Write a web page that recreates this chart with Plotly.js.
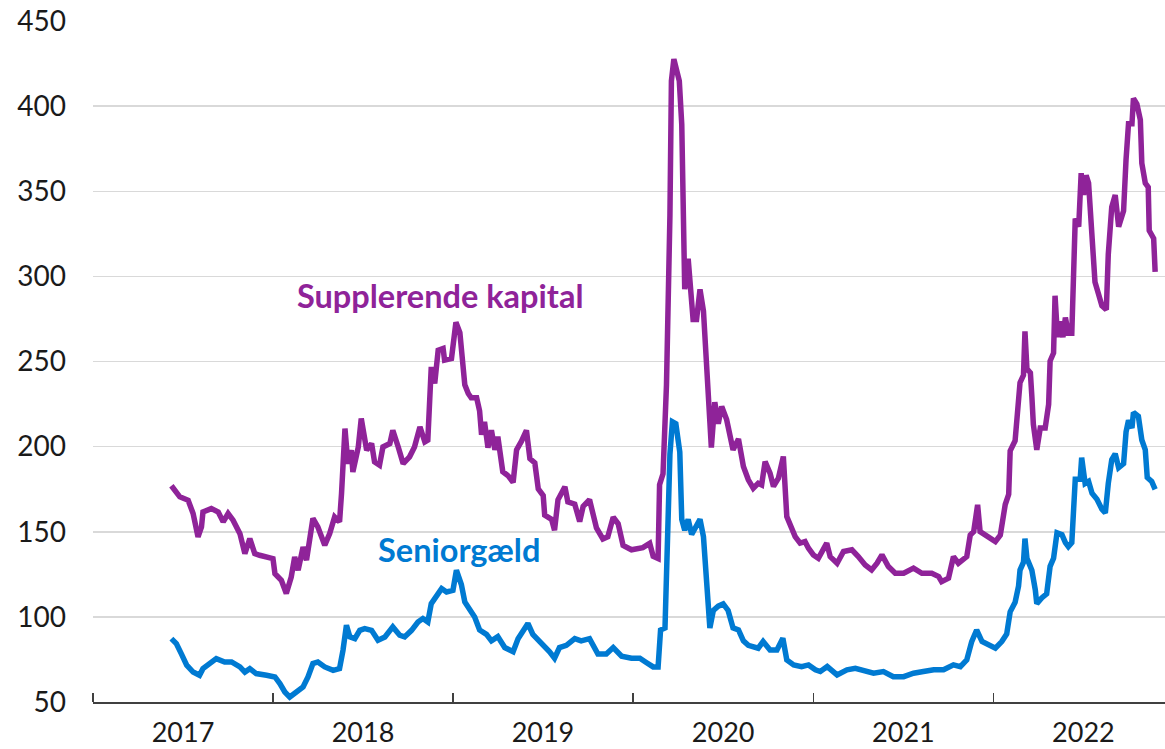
<!DOCTYPE html>
<html>
<head>
<meta charset="utf-8">
<script src="https://cdn.plot.ly/plotly-3.0.1.min.js"></script>
<style>html,body{margin:0;padding:0;background:#fff;}#chart{width:1165px;height:749px;}</style>
</head>
<body>
<div id="chart"></div>
<script>
// Time as decimal years, values in basis points
const suppYears = [2017.437,2017.483,2017.529,2017.557,2017.585,2017.604,2017.613,2017.659,2017.696,2017.724,2017.752,2017.779,2017.817,2017.844,2017.872,2017.900,2017.928,2018.002,2018.011,2018.048,2018.076,2018.104,2018.122,2018.141,2018.168,2018.187,2018.224,2018.252,2018.289,2018.317,2018.344,2018.372,2018.382,2018.400,2018.418,2018.437,2018.446,2018.474,2018.493,2018.521,2018.548,2018.567,2018.594,2018.613,2018.650,2018.668,2018.696,2018.724,2018.761,2018.789,2018.817,2018.844,2018.863,2018.882,2018.900,2018.918,2018.946,2018.956,2018.993,2019.017,2019.039,2019.054,2019.067,2019.085,2019.104,2019.132,2019.150,2019.159,2019.178,2019.196,2019.215,2019.233,2019.252,2019.279,2019.307,2019.335,2019.354,2019.382,2019.409,2019.428,2019.456,2019.474,2019.502,2019.511,2019.548,2019.567,2019.585,2019.622,2019.641,2019.678,2019.706,2019.724,2019.761,2019.798,2019.835,2019.863,2019.891,2019.918,2019.946,2019.993,2020.057,2020.094,2020.113,2020.141,2020.150,2020.168,2020.187,2020.206,2020.215,2020.228,2020.243,2020.257,2020.271,2020.279,2020.289,2020.307,2020.321,2020.335,2020.354,2020.372,2020.391,2020.409,2020.428,2020.437,2020.456,2020.474,2020.493,2020.521,2020.557,2020.585,2020.613,2020.641,2020.668,2020.696,2020.715,2020.733,2020.761,2020.779,2020.807,2020.835,2020.854,2020.872,2020.900,2020.928,2020.956,2020.974,2021.002,2021.029,2021.076,2021.094,2021.132,2021.168,2021.215,2021.252,2021.289,2021.326,2021.354,2021.382,2021.418,2021.456,2021.502,2021.557,2021.604,2021.659,2021.696,2021.715,2021.752,2021.779,2021.807,2021.854,2021.872,2021.891,2021.913,2021.928,2021.974,2022.011,2022.039,2022.067,2022.085,2022.094,2022.122,2022.141,2022.150,2022.168,2022.178,2022.187,2022.206,2022.215,2022.224,2022.243,2022.261,2022.289,2022.307,2022.317,2022.335,2022.344,2022.357,2022.372,2022.387,2022.400,2022.418,2022.437,2022.456,2022.474,2022.489,2022.502,2022.517,2022.529,2022.548,2022.567,2022.585,2022.604,2022.628,2022.641,2022.659,2022.678,2022.696,2022.724,2022.739,2022.752,2022.771,2022.779,2022.798,2022.817,2022.826,2022.844,2022.863,2022.868,2022.891,2022.900];
const suppValues = [177,170.5,168.5,160.7,147,152.8,161.6,163.6,161.6,155.8,160.7,156.8,148.9,137.2,146,137.2,136.2,134.2,125.4,121.5,113.7,123.4,135.2,127.4,141,133.3,157.8,152.8,142.1,148.9,158.7,155.8,172.4,210.6,190,197.9,185.1,199.8,216.5,197.9,201.8,191,189.1,199.8,201.8,209.6,199.8,190,194,199.8,211.6,202.8,203.8,246.8,237.1,256.6,257.6,250.8,251.8,273,267,247.8,236.3,231.2,228.7,228.7,221,207,214.6,199.4,209.6,198.1,205.8,185.3,182.8,179,198.1,203.2,209.6,193,190.5,175.2,171.3,159.8,157.3,150.9,168.8,176.4,167.5,166.2,156,164.9,168.8,152.2,145.8,147.1,158.6,154.7,142,139.4,140.7,143.2,135.6,134.3,177.7,184,236.3,335.8,414.8,427.6,420,414.8,389.3,315.4,292.4,310.3,295,274.6,274.6,292.4,279.7,251.6,226.1,199.4,226.1,213.4,223.6,215.9,198.1,204.5,188.3,180.5,175.6,178.5,177.5,191.2,184.4,176.6,181.5,194.2,158.9,153.1,147.2,143.3,144.2,140.3,136.4,134.4,143.3,135.4,131.5,138.4,139.4,135.4,130.5,127.6,131.5,136.4,129.6,125.6,125.6,128.6,125.6,125.6,123.7,120.7,122.7,135.4,131.5,135.4,148.1,150.1,165.8,150.1,147.2,144.2,148,166,172,197.5,203.5,228,237.6,242,267.7,245.7,243.4,229.5,213.2,198.1,210.9,210.9,224.8,250.3,255,288.6,264.3,273.5,264.3,275.8,266.6,266.6,333.9,329.2,360.6,347.8,359.4,354.8,317.6,296.7,289.8,282.8,280.5,313,340.8,347.8,329.2,338.5,368.7,389.6,389.6,404.6,401.2,391.9,366.4,354.8,352.4,326.9,322.3,302.6];

const seniorYears = [2017.437,2017.465,2017.493,2017.521,2017.557,2017.594,2017.613,2017.650,2017.687,2017.733,2017.771,2017.817,2017.844,2017.872,2017.909,2017.965,2018.011,2018.039,2018.067,2018.094,2018.132,2018.168,2018.196,2018.224,2018.252,2018.289,2018.335,2018.372,2018.391,2018.409,2018.428,2018.456,2018.483,2018.511,2018.548,2018.585,2018.622,2018.668,2018.706,2018.733,2018.771,2018.807,2018.835,2018.863,2018.882,2018.909,2018.937,2018.965,2019.002,2019.021,2019.048,2019.067,2019.094,2019.122,2019.150,2019.187,2019.215,2019.252,2019.289,2019.335,2019.363,2019.391,2019.418,2019.446,2019.483,2019.539,2019.567,2019.594,2019.632,2019.678,2019.715,2019.761,2019.807,2019.854,2019.891,2019.937,2019.993,2020.039,2020.076,2020.113,2020.141,2020.154,2020.178,2020.187,2020.206,2020.221,2020.239,2020.261,2020.271,2020.289,2020.307,2020.326,2020.354,2020.372,2020.391,2020.409,2020.428,2020.446,2020.474,2020.502,2020.529,2020.557,2020.585,2020.613,2020.641,2020.696,2020.724,2020.761,2020.798,2020.832,2020.854,2020.891,2020.937,2020.974,2021.011,2021.039,2021.079,2021.132,2021.187,2021.233,2021.289,2021.335,2021.391,2021.446,2021.502,2021.557,2021.613,2021.669,2021.724,2021.779,2021.817,2021.854,2021.882,2021.909,2021.937,2021.974,2022.011,2022.048,2022.076,2022.094,2022.122,2022.141,2022.150,2022.168,2022.178,2022.187,2022.215,2022.233,2022.243,2022.271,2022.298,2022.317,2022.335,2022.354,2022.382,2022.400,2022.418,2022.437,2022.456,2022.483,2022.493,2022.511,2022.529,2022.548,2022.576,2022.604,2022.622,2022.641,2022.659,2022.678,2022.696,2022.724,2022.739,2022.752,2022.771,2022.779,2022.807,2022.826,2022.844,2022.857,2022.882,2022.900];
const seniorValues = [87.2,84.3,78.4,71.6,67.6,65.7,69.6,72.6,75.5,73.5,73.5,70.6,67.6,69.6,66.7,65.7,64.7,60.8,55.9,52.9,55.9,58.8,64.7,72.6,73.5,70.6,68.6,69.6,80.4,95.1,88.2,87.2,92.1,93.1,92.1,86.3,88.2,94.1,89.2,88.2,92.1,97,99,97,107.8,112.7,116.6,114.6,115.6,127.4,119,108.8,103.8,99.9,92.3,89.7,85.9,88.4,82,79.5,87.2,91,96.1,89.7,85.9,79.5,75.7,82,83.3,87.2,85.9,87.2,78.2,78.2,82,76.9,75.7,75.7,73.2,70.6,70.6,92.3,93.5,124.1,195.5,214.6,213.4,196.8,157.3,150.9,157.3,148.4,154.7,157.3,147.1,126.7,93.5,103.8,106.3,107.6,103.8,93.5,92.3,85.9,83.3,81.6,85.5,80.6,80.6,87.4,74.7,71.8,70.8,71.8,68.9,67.9,70.8,65.9,68.9,69.8,67.9,66.9,67.9,64.9,64.9,66.9,67.9,68.9,68.9,71.8,70.8,74.7,85.5,92.3,85.5,83.5,81.6,85.5,90,103,108.5,118.1,127.5,132.1,146,134.4,127.4,115.8,107.7,111.1,113.5,129.7,134.4,149.4,148.3,143.6,141.3,143.6,180.8,180.8,193.5,178.4,179.6,172.6,169.1,163.3,161,178.4,192.3,195.8,187.7,190,208.6,215.5,210.9,220.1,217.8,203.9,198.1,181.9,179.6,174.9];

const seriesNames = ['Supplerende kapital', 'Seniorgæld'];
const yTicks = [50,100,150,200,250,300,350,400,450];

function toDate(y) {
  const yr = Math.floor(y + 1e-9);
  const s = Date.UTC(yr, 0, 1), e = Date.UTC(yr + 1, 0, 1);
  return new Date(s + (y - yr) * (e - s)).toISOString().slice(0, 10);
}

const purple = '#8f2399';
const blue = '#007ad2';
const font = 'Lato, "Open Sans", sans-serif';

const traces = [
  {x: suppYears.map(toDate), y: suppValues, name: seriesNames[0], type: 'scatter', mode: 'lines',
   line: {color: purple, width: 5.5, shape: 'linear'}},
  {x: seniorYears.map(toDate), y: seniorValues, name: seriesNames[1], type: 'scatter', mode: 'lines',
   line: {color: blue, width: 5.5, shape: 'linear'}}
];

const layout = {
  width: 1165, height: 749,
  margin: {l: 93, r: 0, t: 21, b: 47},
  paper_bgcolor: '#fff', plot_bgcolor: '#fff',
  showlegend: false,
  font: {family: font, color: '#1a1a1a', size: 28},
  xaxis: {
    type: 'date',
    range: ['2017-01-01', '2022-12-15'],
    tick0: '2017-01-01', dtick: 'M12',
    tickformat: '%Y', ticklabelmode: 'period',
    ticks: 'inside', ticklen: 9, tickwidth: 1.5, tickcolor: '#404040',
    showline: true, linecolor: '#404040', linewidth: 1.5,
    showgrid: false, zeroline: false,
    tickfont: {family: font, size: 27, color: '#1a1a1a'},
    ticklabelstandoff: 6
  },
  yaxis: {
    range: [50, 450],
    tickvals: yTicks,
    ticks: '', showline: false,
    showgrid: true, gridcolor: '#d9d9d9', gridwidth: 1.5,
    zeroline: false,
    tickfont: {family: font, size: 28, color: '#1a1a1a'},
    ticklabelstandoff: 26
  },
  annotations: [
    {x: toDate(2018.933), y: 289, xref: 'x', yref: 'y', text: '<b>' + seriesNames[0] + '</b>', showarrow: false,
     font: {family: font, size: 32.5, color: purple}},
    {x: toDate(2019.033), y: 139.5, xref: 'x', yref: 'y', text: '<b>' + seriesNames[1] + '</b>', showarrow: false,
     font: {family: font, size: 32.5, color: blue}}
  ]
};

Plotly.newPlot('chart', traces, layout, {displayModeBar: false, staticPlot: true});
</script>
</body>
</html>
